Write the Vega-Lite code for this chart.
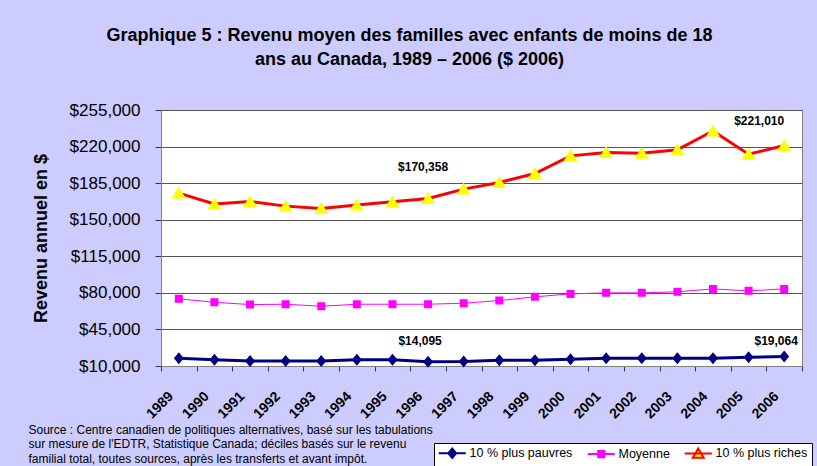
{
  "$schema": "https://vega.github.io/schema/vega-lite/v6.json",
  "width": 641,
  "height": 256,
  "autosize": {"type": "none"},
  "padding": {"left": 161, "top": 110, "right": 15, "bottom": 100},
  "background": "#CCCCFF",
  "title": {
    "text": ["Graphique 5 : Revenu moyen des familles avec enfants de moins de 18", "ans au Canada, 1989 – 2006 ($ 2006)"],
    "anchor": "middle",
    "frame": "group",
    "dx": -72,
    "offset": 32,
    "fontSize": 18,
    "fontWeight": "bold",
    "font": "Liberation Sans",
    "lineHeight": 24,
    "color": "black"
  },
  "datasets": {
    "d": [
      {"year": "1989", "series": "10 % plus pauvres", "value": 17500},
      {"year": "1990", "series": "10 % plus pauvres", "value": 16000},
      {"year": "1991", "series": "10 % plus pauvres", "value": 14800},
      {"year": "1992", "series": "10 % plus pauvres", "value": 14800},
      {"year": "1993", "series": "10 % plus pauvres", "value": 14800},
      {"year": "1994", "series": "10 % plus pauvres", "value": 16000},
      {"year": "1995", "series": "10 % plus pauvres", "value": 16000},
      {"year": "1996", "series": "10 % plus pauvres", "value": 14095},
      {"year": "1997", "series": "10 % plus pauvres", "value": 14300},
      {"year": "1998", "series": "10 % plus pauvres", "value": 15500},
      {"year": "1999", "series": "10 % plus pauvres", "value": 15500},
      {"year": "2000", "series": "10 % plus pauvres", "value": 16500},
      {"year": "2001", "series": "10 % plus pauvres", "value": 17500},
      {"year": "2002", "series": "10 % plus pauvres", "value": 17500},
      {"year": "2003", "series": "10 % plus pauvres", "value": 17500},
      {"year": "2004", "series": "10 % plus pauvres", "value": 17500},
      {"year": "2005", "series": "10 % plus pauvres", "value": 18300},
      {"year": "2006", "series": "10 % plus pauvres", "value": 19064},
      {"year": "1989", "series": "Moyenne", "value": 74300},
      {"year": "1990", "series": "Moyenne", "value": 71000},
      {"year": "1991", "series": "Moyenne", "value": 68800},
      {"year": "1992", "series": "Moyenne", "value": 69100},
      {"year": "1993", "series": "Moyenne", "value": 67200},
      {"year": "1994", "series": "Moyenne", "value": 69100},
      {"year": "1995", "series": "Moyenne", "value": 69100},
      {"year": "1996", "series": "Moyenne", "value": 69100},
      {"year": "1997", "series": "Moyenne", "value": 70100},
      {"year": "1998", "series": "Moyenne", "value": 72600},
      {"year": "1999", "series": "Moyenne", "value": 76200},
      {"year": "2000", "series": "Moyenne", "value": 79000},
      {"year": "2001", "series": "Moyenne", "value": 80000},
      {"year": "2002", "series": "Moyenne", "value": 80000},
      {"year": "2003", "series": "Moyenne", "value": 81000},
      {"year": "2004", "series": "Moyenne", "value": 83800},
      {"year": "2005", "series": "Moyenne", "value": 81900},
      {"year": "2006", "series": "Moyenne", "value": 83800},
      {"year": "1989", "series": "10 % plus riches", "value": 175500},
      {"year": "1990", "series": "10 % plus riches", "value": 165000},
      {"year": "1991", "series": "10 % plus riches", "value": 167500},
      {"year": "1992", "series": "10 % plus riches", "value": 163000},
      {"year": "1993", "series": "10 % plus riches", "value": 160800},
      {"year": "1994", "series": "10 % plus riches", "value": 164000},
      {"year": "1995", "series": "10 % plus riches", "value": 167200},
      {"year": "1996", "series": "10 % plus riches", "value": 170358},
      {"year": "1997", "series": "10 % plus riches", "value": 179300},
      {"year": "1998", "series": "10 % plus riches", "value": 185600},
      {"year": "1999", "series": "10 % plus riches", "value": 194200},
      {"year": "2000", "series": "10 % plus riches", "value": 211100},
      {"year": "2001", "series": "10 % plus riches", "value": 214300},
      {"year": "2002", "series": "10 % plus riches", "value": 213700},
      {"year": "2003", "series": "10 % plus riches", "value": 216900},
      {"year": "2004", "series": "10 % plus riches", "value": 235000},
      {"year": "2005", "series": "10 % plus riches", "value": 212700},
      {"year": "2006", "series": "10 % plus riches", "value": 221010}
    ]
  },
  "data": {"name": "d"},
  "encoding": {
    "x": {
      "field": "year",
      "type": "ordinal",
      "scale": {"type": "band", "paddingInner": 0, "paddingOuter": 0},
      "axis": {
        "labelAngle": -45,
        "labelFontWeight": "bold",
        "labelFontSize": 14,
        "labelFont": "Liberation Sans",
        "labelColor": "black",
        "labelPadding": 18,
        "labelOffset": -13,
        "tickBand": "extent",
        "tickSize": 5,
        "tickColor": "#333333",
        "domainColor": "#808080",
        "grid": false,
        "title": ["Source : Centre canadien de politiques alternatives, basé sur les tabulations", "sur mesure de l'EDTR, Statistique Canada; déciles basés sur le revenu", "familial total, toutes sources, après les transferts et avant impôt."],
        "titleAnchor": "start",
        "titleAlign": "left",
        "titleBaseline": "top",
        "titleX": -133,
        "titleY": 58,
        "titleFont": "Liberation Sans",
        "titleFontSize": 12,
        "titleFontWeight": "normal",
        "titleLineHeight": 14.5,
        "titleColor": "black"
      }
    },
    "y": {
      "field": "value",
      "type": "quantitative",
      "scale": {"domain": [10000, 255000], "nice": false, "zero": false},
      "axis": {
        "values": [10000, 45000, 80000, 115000, 150000, 185000, 220000, 255000],
        "format": "$,.0f",
        "labelFontSize": 17,
        "labelFont": "Liberation Sans",
        "labelColor": "black",
        "labelPadding": 15,
        "tickSize": 6,
        "tickColor": "#333333",
        "domainColor": "#808080",
        "gridColor": "#555555",
        "gridOpacity": 1,
        "title": "Revenu annuel en $",
        "titleFontSize": 18,
        "titleFont": "Liberation Sans",
        "titleFontWeight": "bold",
        "titleColor": "black",
        "titlePadding": 19
      }
    }
  },
  "layer": [
    {
      "transform": [{"filter": "datum.series != 'Moyenne'"}],
      "mark": {"type": "line", "strokeWidth": 3},
      "encoding": {
        "stroke": {
          "field": "series",
          "type": "nominal",
          "scale": {"domain": ["10 % plus pauvres", "Moyenne", "10 % plus riches"], "range": ["#000080", "#FF00FF", "#FF0000"]},
          "legend": {"orient": "none", "legendX": 273, "legendY": 333, "direction": "horizontal", "title": null}
        }
      }
    },
    {
      "transform": [{"filter": "datum.series == 'Moyenne'"}],
      "mark": {"type": "line", "strokeWidth": 1},
      "encoding": {
        "stroke": {
          "field": "series",
          "type": "nominal",
          "scale": {"domain": ["10 % plus pauvres", "Moyenne", "10 % plus riches"], "range": ["#000080", "#FF00FF", "#FF0000"]},
          "legend": {"orient": "none", "legendX": 273, "legendY": 333, "direction": "horizontal", "title": null}
        }
      }
    },
    {
      "mark": {"type": "point", "filled": true, "size": 100, "opacity": 1},
      "encoding": {
        "fill": {
          "field": "series",
          "type": "nominal",
          "scale": {"domain": ["10 % plus pauvres", "Moyenne", "10 % plus riches"], "range": ["#000080", "#FF00FF", "#FFFF00"]},
          "legend": {"orient": "none", "legendX": 273, "legendY": 333, "direction": "horizontal", "title": null}
        },
        "shape": {
          "field": "series",
          "type": "nominal",
          "scale": {"domain": ["10 % plus pauvres", "Moyenne", "10 % plus riches"], "range": ["M-3.5,0L3.5,0M0,-1.2L1,0L0,1.2L-1,0Z", "M-3.5,0L3.5,0M-0.8,-0.8L0.8,-0.8L0.8,0.8L-0.8,0.8Z", "M-3.5,0L3.5,0M0,-1.3L1.4,1.1L-1.4,1.1Z"]},
          "legend": {"orient": "none", "legendX": 273, "legendY": 333, "direction": "horizontal", "title": null}
        }
      }
    },
    {
      "transform": [{"filter": "datum.series == '10 % plus riches' && datum.year == '1996'"}],
      "mark": {"type": "text", "fontWeight": "bold", "fontSize": 12, "font": "Liberation Sans", "dx": -5, "dy": -31, "color": "black"},
      "encoding": {"text": {"field": "value", "type": "quantitative", "format": "$,.0f"}}
    },
    {
      "transform": [{"filter": "datum.series == '10 % plus riches' && datum.year == '2006'"}],
      "mark": {"type": "text", "fontWeight": "bold", "fontSize": 12, "font": "Liberation Sans", "dx": -25, "dy": -25, "color": "black"},
      "encoding": {"text": {"field": "value", "type": "quantitative", "format": "$,.0f"}}
    },
    {
      "transform": [{"filter": "datum.series == '10 % plus pauvres' && datum.year == '1996'"}],
      "mark": {"type": "text", "fontWeight": "bold", "fontSize": 12, "font": "Liberation Sans", "dx": -8, "dy": -21, "color": "black"},
      "encoding": {"text": {"field": "value", "type": "quantitative", "format": "$,.0f"}}
    },
    {
      "transform": [{"filter": "datum.series == '10 % plus pauvres' && datum.year == '2006'"}],
      "mark": {"type": "text", "fontWeight": "bold", "fontSize": 12, "font": "Liberation Sans", "dx": -8, "dy": -16, "color": "black"},
      "encoding": {"text": {"field": "value", "type": "quantitative", "format": "$,.0f"}}
    }
  ],
  "config": {
    "font": "Liberation Sans",
    "view": {"stroke": "#808080", "strokeWidth": 1, "fill": "white"},
    "legend": {
      "fillColor": "white",
      "strokeColor": "black",
      "padding": 4,
      "labelFontSize": 12.5,
      "labelFont": "Liberation Sans",
      "labelColor": "black",
      "symbolSize": 60,
      "symbolStrokeWidth": 2,
      "symbolOffset": 8,
      "labelOffset": 11,
      "columnPadding": 10
    }
  }
}
